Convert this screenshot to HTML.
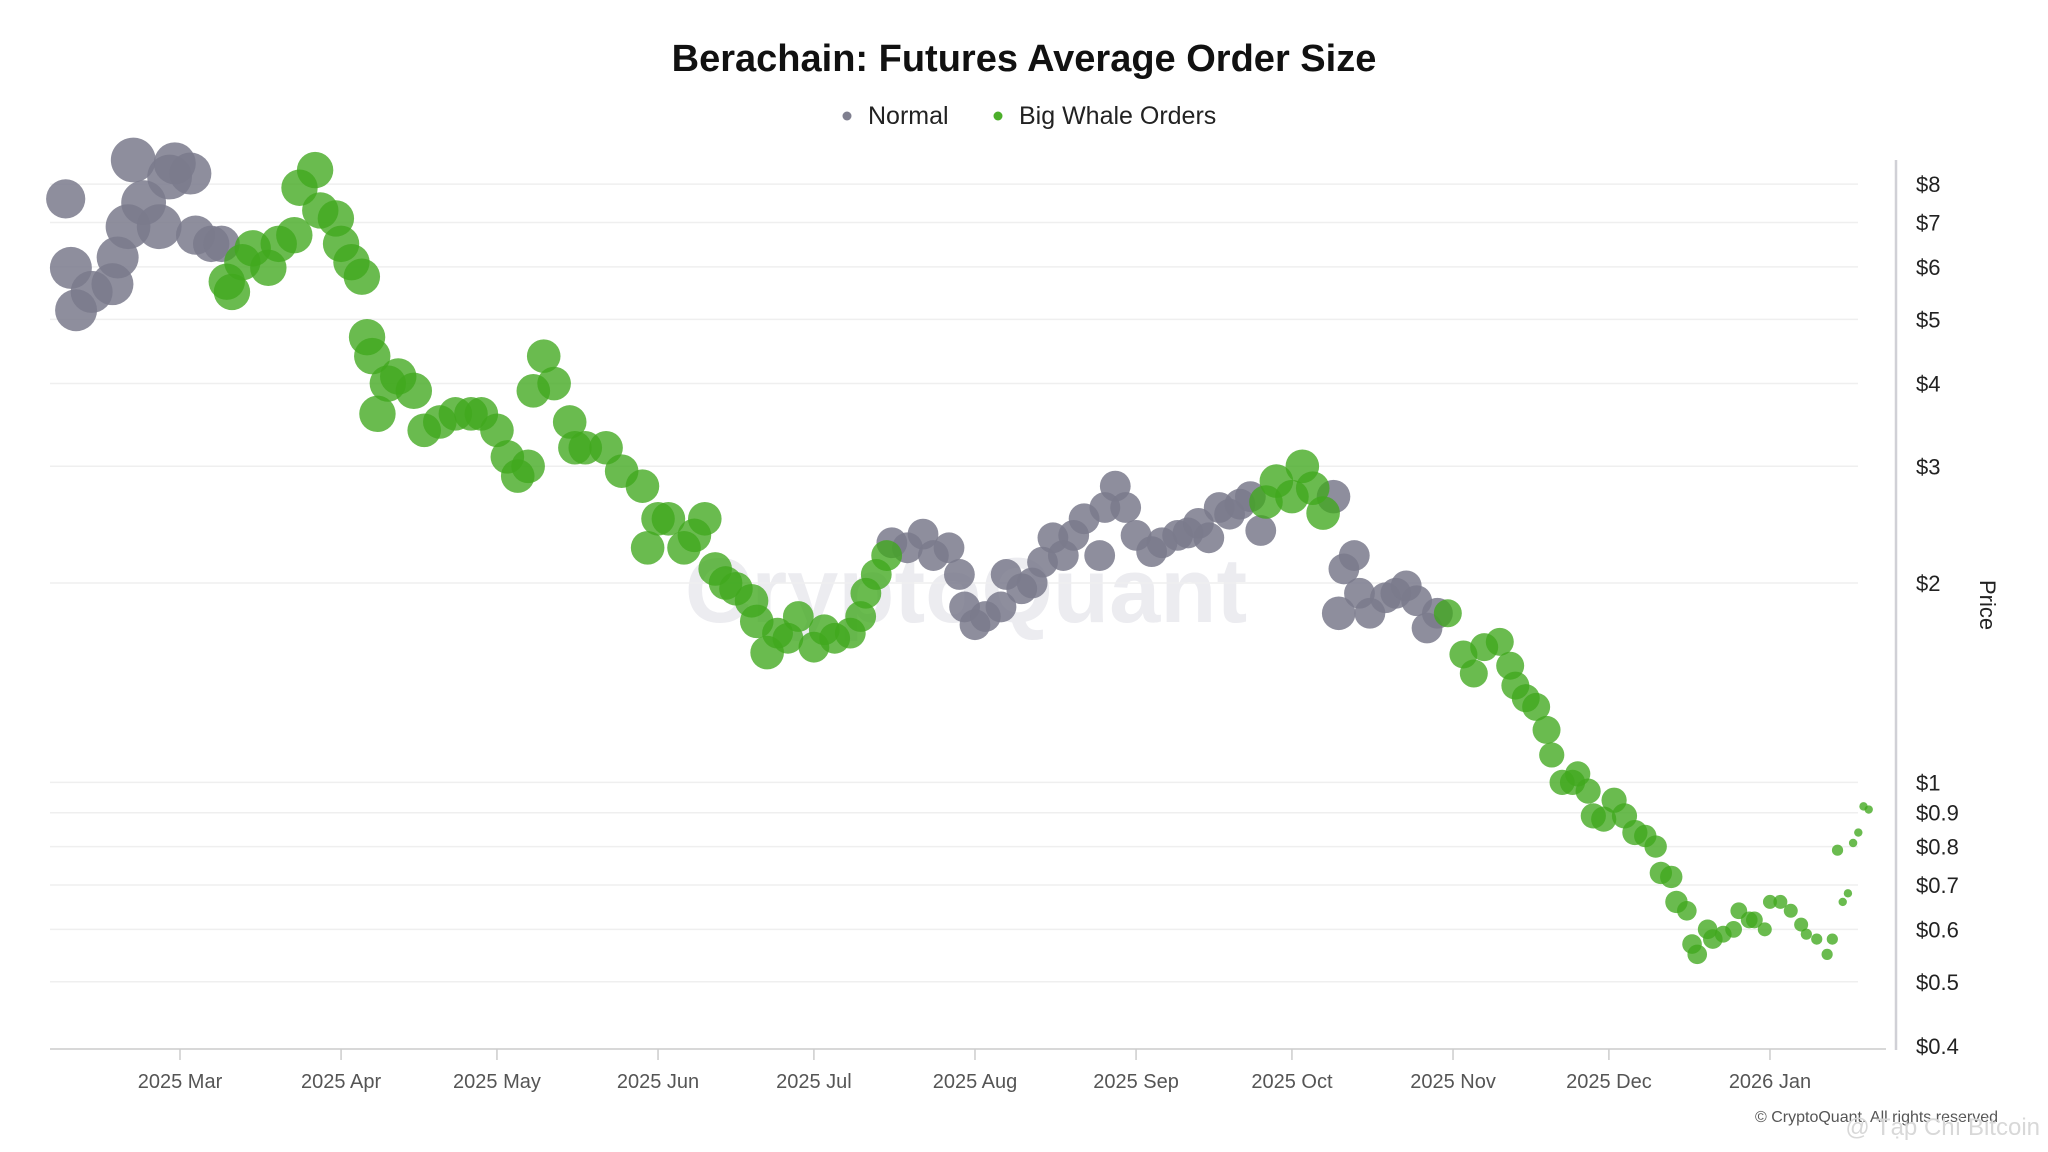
<!DOCTYPE html>
<html><head><meta charset="utf-8"><style>
html,body{margin:0;padding:0;background:#fff;}
svg{display:block;font-family:"Liberation Sans",sans-serif;}
</style></head><body>
<svg id="chart" width="2048" height="1152" viewBox="0 0 2048 1152" xmlns="http://www.w3.org/2000/svg">
<rect width="2048" height="1152" fill="#fff"/>
<text x="1024" y="71" text-anchor="middle" font-size="38" font-weight="bold" fill="#111">Berachain: Futures Average Order Size</text>
<g>
<g><circle cx="847" cy="116" r="4.5" fill="#7f7f8f"/><text x="868" y="124" font-size="25" fill="#222">Normal</text></g>
<g><circle cx="998" cy="116" r="4.5" fill="#4caf2a"/><text x="1019" y="124" font-size="25" fill="#222">Big Whale Orders</text></g>
</g>
<text x="966" y="622" text-anchor="middle" font-size="92" font-weight="bold" fill="#ececf0">CryptoQuant</text>
<g id="grid"></g>
<g id="xaxis"></g>
<g id="yaxis"></g>
<g id="points"></g>
<text transform="translate(1980,605) rotate(90)" text-anchor="middle" font-size="22" fill="#222">Price</text>
<text x="1998" y="1122" text-anchor="end" font-size="16" fill="#555">© CryptoQuant. All rights reserved</text>
<text x="2040" y="1135" text-anchor="end" font-size="24" fill="#d8d8d8">@ Tạp Chí Bitcoin</text>
</svg>
<script>
const yTicks = [8,7,6,5,4,3,2,1,0.9,0.8,0.7,0.6,0.5,0.4];
const yTickLabels = ["$8","$7","$6","$5","$4","$3","$2","$1","$0.9","$0.8","$0.7","$0.6","$0.5","$0.4"];
const monthDays = [28,59,89,120,150,181,212,242,273,303,334];
const monthLabels = ["2025 Mar","2025 Apr","2025 May","2025 Jun","2025 Jul","2025 Aug","2025 Sep","2025 Oct","2025 Nov","2025 Dec","2026 Jan"];
// days since 2025-02-01
const normalDays = [6,7,8,11,15,16,18,19,21,24,26,27,30,31,34,36,
 165,168,171,173,176,178,179,181,183,186,187,190,192,194,196,198,200,202,205,206,208,210,212,215,217,220,222,224,226,228,230,232,234,236,
 250,251,252,254,255,257,260,262,264,266,268,270];
const normalPrices = [7.6,5.98,5.16,5.5,5.65,6.2,6.9,8.7,7.5,6.9,8.2,8.6,8.3,6.7,6.5,6.5,
 2.3,2.26,2.37,2.2,2.26,2.06,1.84,1.73,1.78,1.84,2.06,1.96,2.0,2.15,2.34,2.2,2.36,2.5,2.2,2.6,2.8,2.6,2.36,2.23,2.3,2.36,2.38,2.46,2.34,2.6,2.54,2.63,2.7,2.4,
 2.7,1.8,2.1,2.2,1.93,1.8,1.9,1.93,1.98,1.88,1.71,1.8];
const normalSizes = [14,15,15,15,15,15,16,16,16,16,16,15,15,14,13,13,
 11,11,11,11,11,11,11,11,11,11,11,11,11,11,11,11,11,11,11,11,11,11,11,11,11,11,11,11,11,11,11,11,11,11,
 12,12,11,11,11,11,11,11,11,11,11,11];
const whaleDays = [37,38,40,42,45,47,50,51,54,55,58,59,61,63,64,65,66,68,70,73,75,78,81,84,86,89,91,93,95,96,98,100,103,104,106,110,113,117,118,120,122,125,127,129,131,133,135,138,139,141,143,145,147,150,152,154,157,159,160,162,164,
 237,239,242,244,246,248,
 272,275,277,279,282,284,285,287,289,291,292,294,296,297,299,300,302,304,306,308,310,312,313,315,316,318,319,320,322,323,325,327,328,330,331,333,334,336,338,340,341,343,345,346,347,348,349,350,351,352,353];
const whalePrices = [5.7,5.5,6.1,6.4,5.98,6.5,6.7,7.9,8.4,7.3,7.1,6.5,6.1,5.8,4.7,4.4,3.6,4.0,4.1,3.9,3.4,3.5,3.6,3.6,3.6,3.4,3.1,2.9,3.0,3.9,4.4,4.0,3.5,3.2,3.2,3.2,2.95,2.8,2.26,2.5,2.5,2.26,2.36,2.5,2.1,2.0,1.96,1.88,1.75,1.57,1.68,1.65,1.78,1.6,1.7,1.65,1.68,1.78,1.93,2.06,2.2,
 2.65,2.85,2.7,3.0,2.78,2.55,
 1.8,1.56,1.46,1.6,1.63,1.5,1.4,1.34,1.3,1.2,1.1,1.0,1.0,1.03,0.97,0.89,0.88,0.94,0.89,0.84,0.83,0.8,0.73,0.72,0.66,0.64,0.57,0.55,0.6,0.58,0.59,0.6,0.64,0.62,0.62,0.6,0.66,0.66,0.64,0.61,0.59,0.58,0.55,0.58,0.79,0.66,0.68,0.81,0.84,0.92,0.91];
const whaleSizes = [13,13,13,13,13,13,13,13,13,13,13,13,13,13,13,13,13,13,13,13,12,12,12,12,12,12,12,12,12,12,12,12,12,12,12,12,12,12,12,12,12,12,12,12,12,12,12,12,12,12,11,11,11,11,11,11,11,11,11,11,11,
 12,12,12,12,12,12,
 10,10,10,10,10,10,10,10,10,10,9,9,9,9,9,9,9,9,9,9,8,8,8,8,8,7,7,7,7,7,6,6,6,6,6,5,5,5,5,5,4,4,4,4,4,3,3,3,3,3,3];

const NS='http://www.w3.org/2000/svg';
const X0=180, PXD=5.196, Y0=1046, PYL=287.7, PMIN=0.4, RS=1.4;
function xScale(d){return X0+(d-28)*PXD;}
function yScale(p){return Y0-Math.log(p/PMIN)*PYL;}
function mk(tag,attrs,parent){const e=document.createElementNS(NS,tag);for(const k in attrs)e.setAttribute(k,attrs[k]);parent.appendChild(e);return e;}
const grid=document.getElementById('grid'), xa=document.getElementById('xaxis'), ya=document.getElementById('yaxis'), pts=document.getElementById('points');
yTicks.forEach((t,i)=>{
  const y=yScale(t);
  if(i<yTicks.length-1){
    const g=mk('line',{x1:50,x2:1858,y1:y,y2:y,stroke:'#efefef','stroke-width':1.5},grid);
    
    
  }
  const tx=mk('text',{x:1916,y:y+8,'font-size':22,fill:'#222'},ya);
  tx.textContent=yTickLabels[i];
  
  
});
const yl=mk('line',{x1:1896,x2:1896,y1:160,y2:1050,stroke:'#d0d0d6','stroke-width':2.5},ya);


const xl=mk('line',{x1:50,x2:1886,y1:1049,y2:1049,stroke:'#ccc','stroke-width':1.5},xa);


monthDays.forEach((d,i)=>{
  const x=xScale(d);
  const t=mk('line',{x1:x,x2:x,y1:1049,y2:1060,stroke:'#ccc','stroke-width':1.5},xa);
  
  
  const tx=mk('text',{x:x,y:1088,'text-anchor':'middle','font-size':20,fill:'#555'},xa);
  tx.textContent=monthLabels[i];
  
  
});
function drawSeries(days,prices,sizes,color,name){
  days.forEach((d,i)=>{
    const c=mk('circle',{cx:xScale(d),cy:yScale(prices[i]),r:sizes[i]*RS,fill:color},pts);
    
    
  });
}
drawSeries(normalDays,normalPrices,normalSizes,'rgba(122,122,140,0.85)','normal-point');
drawSeries(whaleDays,whalePrices,whaleSizes,'rgba(64,168,30,0.78)','whale-point');
</script>
</body></html>
